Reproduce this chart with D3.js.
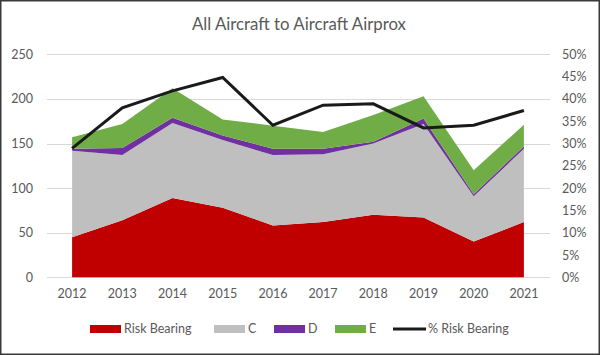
<!DOCTYPE html>
<html>
<head>
<meta charset="utf-8">
<script src="https://cdn.jsdelivr.net/npm/d3@7"></script>
<style>
html,body{margin:0;padding:0;background:#fff;}
svg{display:block;font-family:Lato,"Open Sans",sans-serif;}
</style>
</head>
<body>
<svg id="chart" width="600" height="355"></svg>
<script>
const years = ["2012","2013","2014","2015","2016","2017","2018","2019","2020","2021"];
const riskBearing = [45, 64, 89, 78, 58, 62, 70, 67, 40, 62];
const catC = [97, 73, 84, 76, 79, 76, 80, 105, 51, 82];
const catD = [2, 8, 6, 5, 7, 6, 2, 6, 2, 3];
const catE = [13, 27, 33, 18, 26, 19, 30, 25, 27, 24];
const pctRiskBearing = [28.9, 38.0, 41.8, 44.8, 34.1, 38.6, 38.9, 33.5, 34.1, 37.4];
const leftTicks = [0, 50, 100, 150, 200, 250];
const rightTicks = [0, 5, 10, 15, 20, 25, 30, 35, 40, 45, 50];

const seriesNames = ["Risk Bearing", "C", "D", "E"];
const seriesColors = {"Risk Bearing": "#C00000", "C": "#BFBFBF", "D": "#7030A0", "E": "#70AD47"};
const lineName = "% Risk Bearing";
const lineColor = "#1a1a1a";
const textColor = "#595959";

const svg = d3.select("#chart");
const W = 600, H = 355;
const plot = {left: 47, right: 549, top: 54.3, bottom: 277.3};

// border
svg.append("rect").attr("x", 0.75).attr("y", 0.75).attr("width", W - 1.5).attr("height", H - 1.5)
  .attr("fill", "#fff").attr("stroke", "#3a3a3a").attr("stroke-width", 1.5);

const table = years.map((y, i) => ({
  year: y, "Risk Bearing": riskBearing[i], C: catC[i], D: catD[i], E: catE[i], pct: pctRiskBearing[i]
}));

const x = d3.scaleBand().domain(years).range([plot.left, plot.right]).paddingInner(0).paddingOuter(0);
const cx = d => x(d) + x.bandwidth() / 2;
const y = d3.scaleLinear().domain([0, 250]).range([plot.bottom, plot.top]);
const y2 = d3.scaleLinear().domain([0, 50]).range([plot.bottom, plot.top]);

// gridlines
svg.append("g").selectAll("line").data(leftTicks).join("line")
  .attr("x1", plot.left).attr("x2", plot.right + 1)
  .attr("y1", d => Math.round(y(d)) + 0.5).attr("y2", d => Math.round(y(d)) + 0.5)
  .attr("stroke", "#d9d9d9").attr("stroke-width", 1);

// stacked areas
const stack = d3.stack().keys(seriesNames);
const stacked = stack(table);
const area = d3.area()
  .x(d => cx(d.data.year))
  .y0(d => y(d[0]))
  .y1(d => y(d[1]));
svg.append("g").selectAll("path").data(stacked).join("path")
  .attr("d", area)
  .attr("fill", d => seriesColors[d.key]);

// line
const line = d3.line().x(d => cx(d.year)).y(d => y2(d.pct));
svg.append("path").datum(table).attr("d", line)
  .attr("fill", "none").attr("stroke", lineColor).attr("stroke-width", 3)
  .attr("stroke-linejoin", "miter").attr("stroke-linecap", "butt");

// left axis
const axL = d3.axisLeft(y).tickValues(leftTicks).tickSize(0).tickPadding(0);
const gL = svg.append("g").attr("transform", `translate(33,0)`).call(axL);
gL.select(".domain").remove();
gL.selectAll("text").attr("fill", textColor).style("font-size", "12.5px").style("font-family", "Lato");

// right axis
const axR = d3.axisRight(y2).tickValues(rightTicks).tickSize(0).tickPadding(0).tickFormat(d => d + "%");
const gR = svg.append("g").attr("transform", `translate(562,0)`).call(axR);
gR.select(".domain").remove();
gR.selectAll("text").attr("fill", textColor).style("font-size", "12.5px").style("font-family", "Lato");

// bottom axis
const axB = d3.axisBottom(x).tickSize(0).tickPadding(0);
const gB = svg.append("g").attr("transform", `translate(0,${plot.bottom + 12})`).call(axB);
gB.select(".domain").remove();
gB.selectAll("text").attr("fill", textColor).style("font-size", "12.5px").style("font-family", "Lato");

// title
svg.append("text").attr("x", 299).attr("y", 30).attr("text-anchor", "middle")
  .attr("fill", textColor).style("font-size", "16.8px").style("font-family", "Lato")
  .text("All Aircraft to Aircraft Airprox");

// legend
const legendItems = [
  {name: "Risk Bearing", type: "area", color: seriesColors["Risk Bearing"], x: 90},
  {name: "C", type: "area", color: seriesColors["C"], x: 214},
  {name: "D", type: "area", color: seriesColors["D"], x: 274},
  {name: "E", type: "area", color: seriesColors["E"], x: 335},
  {name: lineName, type: "line", color: lineColor, x: 393}
];
const ly = 329;
const lg = svg.append("g").selectAll("g").data(legendItems).join("g")
  .attr("transform", d => `translate(${d.x},${ly})`);
lg.filter(d => d.type === "area").append("rect")
  .attr("x", 0).attr("y", -4).attr("width", 31).attr("height", 8).attr("fill", d => d.color);
lg.filter(d => d.type === "line").append("line")
  .attr("x1", 0).attr("x2", 33).attr("y1", 0).attr("y2", 0)
  .attr("stroke", d => d.color).attr("stroke-width", 3);
lg.append("text")
  .attr("x", d => d.type === "line" ? 35 : 34).attr("y", 0).attr("dy", "0.35em")
  .attr("fill", textColor).style("font-size", "12.5px").style("font-family", "Lato")
  .text(d => d.name);
</script>
</body>
</html>
